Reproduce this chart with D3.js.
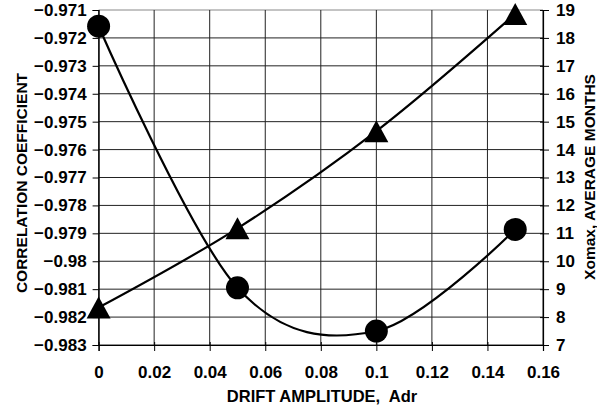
<!DOCTYPE html>
<html>
<head>
<meta charset="utf-8">
<script src="https://cdn.jsdelivr.net/npm/d3@7"></script>
<style>
  body { margin: 0; background: #fff; }
  text { font-family: "Liberation Sans", Arial, sans-serif; font-weight: bold; fill: #000; }
</style>
</head>
<body>
<div id="chart"></div>
<script>
// drift amplitude values
const driftX = [0, 0.05, 0.1, 0.15];
// correlation coefficient (left axis, circles)
const correlation = [-0.97158, -0.98095, -0.9825, -0.97886];
// Xomax average months (right axis, triangles)
const xomax = [8.34, 11.18, 14.66, 18.86];

const xTicks = [0, 0.02, 0.04, 0.06, 0.08, 0.1, 0.12, 0.14, 0.16];
const leftTicks = d3.range(0, 13).map(i => +(-0.983 + i * 0.001).toFixed(3));
const rightTicks = d3.range(7, 20);

const W = 597, H = 411;
const margin = { top: 10, right: 54, bottom: 66, left: 98.6 };
const width = W - margin.left - margin.right;
const height = H - margin.top - margin.bottom;

const svg = d3.select("#chart")
  .append("svg")
  .attr("width", W)
  .attr("height", H);

const g = svg.append("g")
  .attr("transform", `translate(${margin.left},${margin.top})`);

// scales
const x = d3.scaleLinear().domain([0, 0.16]).range([0, width]);
const yL = d3.scaleLinear().domain([-0.983, -0.971]).range([height, 0]);
const yR = d3.scaleLinear().domain([7, 19]).range([height, 0]);

// gridlines
g.selectAll(".hgrid")
  .data(leftTicks)
  .enter().append("line")
  .attr("x1", 0).attr("x2", width)
  .attr("y1", d => yL(d)).attr("y2", d => yL(d))
  .style("stroke", d => d === -0.971 ? "#888" : "#222")
  .style("stroke-width", 1);

g.selectAll(".vgrid")
  .data(xTicks)
  .enter().append("line")
  .attr("x1", d => x(d)).attr("x2", d => x(d))
  .attr("y1", 0).attr("y2", height)
  .style("stroke", "#222")
  .style("stroke-width", 1);

// axes
const fmtL = d => d3.format(".3~f")(d);
const leftAxis = g.append("g")
  .call(d3.axisLeft(yL).tickValues(leftTicks).tickFormat(fmtL).tickSize(6).tickPadding(6));

const bottomAxis = g.append("g")
  .attr("transform", `translate(0,${height})`)
  .call(d3.axisBottom(x).tickValues(xTicks).tickFormat(d3.format("~g")).tickSize(6).tickPadding(15));

const rightAxis = g.append("g")
  .attr("transform", `translate(${width},0)`)
  .call(d3.axisRight(yR).tickValues(rightTicks).tickSize(6).tickPadding(7));

rightAxis.selectAll(".tick line").attr("x1", -3);
bottomAxis.selectAll(".tick line").attr("y1", -3);

[leftAxis, bottomAxis, rightAxis].forEach(a => {
  a.select(".domain").style("stroke", "#000").style("stroke-width", 1.2);
  a.selectAll(".tick line").style("stroke", "#000");
  a.selectAll(".tick text")
    .style("font-size", "17px")
    .style("font-family", "'Liberation Sans', Arial, sans-serif")
    .style("font-weight", "bold");
});

// axis titles
svg.append("text")
  .attr("x", 322)
  .attr("y", 402)
  .attr("text-anchor", "middle")
  .attr("xml:space", "preserve")
  .style("font-size", "16.5px")
  .text("DRIFT AMPLITUDE,  Adr");

svg.append("text")
  .attr("transform", `translate(27,183) rotate(-90)`)
  .attr("text-anchor", "middle")
  .style("font-size", "15.5px")
  .text("CORRELATION COEFFICIENT");

svg.append("text")
  .attr("transform", `translate(595,177) rotate(-90)`)
  .attr("text-anchor", "middle")
  .style("font-size", "15.5px")
  .text("Xomax, AVERAGE MONTHS");

// lines
const curve = d3.curveCardinal.tension(0);

const corrLine = d3.line()
  .x((d, i) => x(driftX[i]))
  .y(d => yL(d))
  .curve(curve);

const xoLine = d3.line()
  .x((d, i) => x(driftX[i]))
  .y(d => yR(d))
  .curve(curve);

g.append("path")
  .datum(correlation)
  .attr("d", corrLine)
  .style("fill", "none")
  .style("stroke", "#000")
  .style("stroke-width", 2.2);

g.append("path")
  .datum(xomax)
  .attr("d", xoLine)
  .style("fill", "none")
  .style("stroke", "#000")
  .style("stroke-width", 2.2);

// markers
g.selectAll(".circ")
  .data(correlation)
  .enter().append("circle")
  .attr("cx", (d, i) => x(driftX[i]))
  .attr("cy", d => yL(d))
  .attr("r", 11.5)
  .style("fill", "#000");

g.selectAll(".tri")
  .data(xomax)
  .enter().append("path")
  .attr("d", "M0,-11 L12,11 L-12,11 Z")
  .attr("transform", (d, i) => `translate(${x(driftX[i])},${yR(d)})`)
  .style("fill", "#000");
</script>
</body>
</html>
